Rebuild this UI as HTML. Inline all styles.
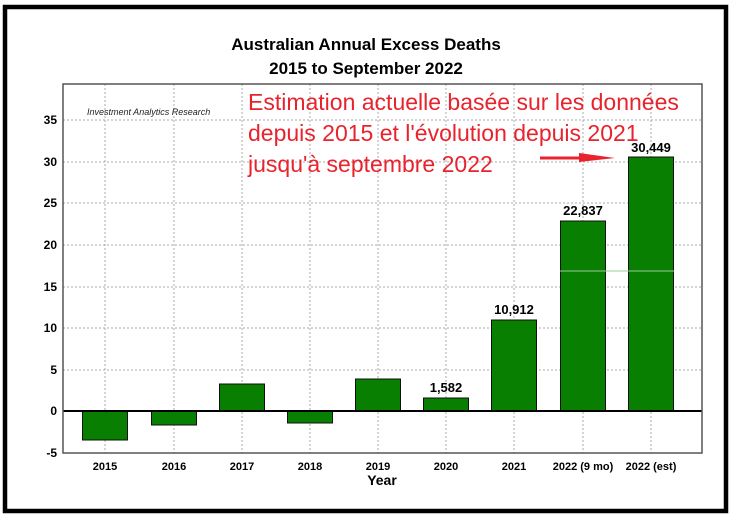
<!DOCTYPE html>
<html><head><meta charset="utf-8"><style>
html,body{margin:0;padding:0;background:#fff;}
svg{display:block;}
</style></head><body>
<svg width="729" height="514" xmlns="http://www.w3.org/2000/svg" font-family="Liberation Sans, Arial, sans-serif">
<rect x="0" y="0" width="729" height="514" fill="#fff"/>
<rect x="5" y="7" width="721" height="504" fill="none" stroke="#000" stroke-width="4.5"/>
<text x="366" y="50" text-anchor="middle" font-size="17" font-weight="bold">Australian Annual Excess Deaths</text>
<text x="366" y="74" text-anchor="middle" font-size="17" font-weight="bold">2015 to September 2022</text>
<g stroke="#aaa" stroke-width="1" stroke-dasharray="2,2">
<line x1="63" x2="702" y1="120" y2="120"/><line x1="63" x2="702" y1="162" y2="162"/>
<line x1="63" x2="702" y1="203" y2="203"/><line x1="63" x2="702" y1="245" y2="245"/>
<line x1="63" x2="702" y1="287" y2="287"/><line x1="63" x2="702" y1="328" y2="328"/>
<line x1="63" x2="702" y1="370" y2="370"/>
<line x1="105" x2="105" y1="84" y2="453"/><line x1="174" x2="174" y1="84" y2="453"/>
<line x1="242" x2="242" y1="84" y2="453"/><line x1="310" x2="310" y1="84" y2="453"/>
<line x1="378" x2="378" y1="84" y2="453"/><line x1="446" x2="446" y1="84" y2="453"/>
<line x1="514" x2="514" y1="84" y2="453"/><line x1="583" x2="583" y1="84" y2="453"/>
<line x1="651" x2="651" y1="84" y2="453"/>
</g>
<text x="87" y="115" font-size="9" font-style="italic" fill="#222">Investment Analytics Research</text>
<g fill="#087f00" stroke="#111" stroke-width="1">
<rect x="82.5" y="411" width="45" height="29"/>
<rect x="151.5" y="411" width="45" height="14"/>
<rect x="219.5" y="384" width="45" height="27"/>
<rect x="287.5" y="411" width="45" height="12"/>
<rect x="355.5" y="379" width="45" height="32"/>
<rect x="423.5" y="398" width="45" height="13"/>
<rect x="491.5" y="320" width="45" height="91"/>
<rect x="560.5" y="221" width="45" height="190"/>
<rect x="628.5" y="157" width="45" height="254"/>
</g>
<rect x="560" y="270.5" width="114" height="1" fill="#9c9" />
<line x1="63" x2="702" y1="411" y2="411" stroke="#000" stroke-width="2"/>
<rect x="63" y="84" width="639" height="369" fill="none" stroke="#555" stroke-width="1.5"/>
<g font-size="12" font-weight="bold" text-anchor="end">
<text x="57" y="124">35</text><text x="57" y="166">30</text><text x="57" y="207">25</text>
<text x="57" y="249">20</text><text x="57" y="291">15</text><text x="57" y="332">10</text>
<text x="57" y="374">5</text><text x="57" y="415">0</text><text x="57" y="457">-5</text>
</g>
<g font-size="11" font-weight="bold" text-anchor="middle">
<text x="105" y="470">2015</text><text x="174" y="470">2016</text><text x="242" y="470">2017</text>
<text x="310" y="470">2018</text><text x="378" y="470">2019</text><text x="446" y="470">2020</text>
<text x="514" y="470">2021</text><text x="583" y="470">2022 (9 mo)</text><text x="651" y="470">2022 (est)</text>
</g>
<text x="382" y="485" font-size="14" font-weight="bold" text-anchor="middle">Year</text>
<g font-size="13" font-weight="bold" text-anchor="middle">
<text x="446" y="392">1,582</text><text x="514" y="314">10,912</text>
<text x="583" y="215">22,837</text><text x="651" y="152">30,449</text>
</g>
<g font-size="23" fill="#e8232d">
<text x="248" y="110">Estimation actuelle basée sur les données</text>
<text x="248" y="141">depuis 2015 et l'évolution depuis 2021</text>
<text x="248" y="172">jusqu'à septembre 2022</text>
</g>
<line x1="540" y1="158" x2="582" y2="158" stroke="#e8232d" stroke-width="3"/>
<polygon points="579,153 615,158 579,162" fill="#e8232d"/>
</svg>
</body></html>
